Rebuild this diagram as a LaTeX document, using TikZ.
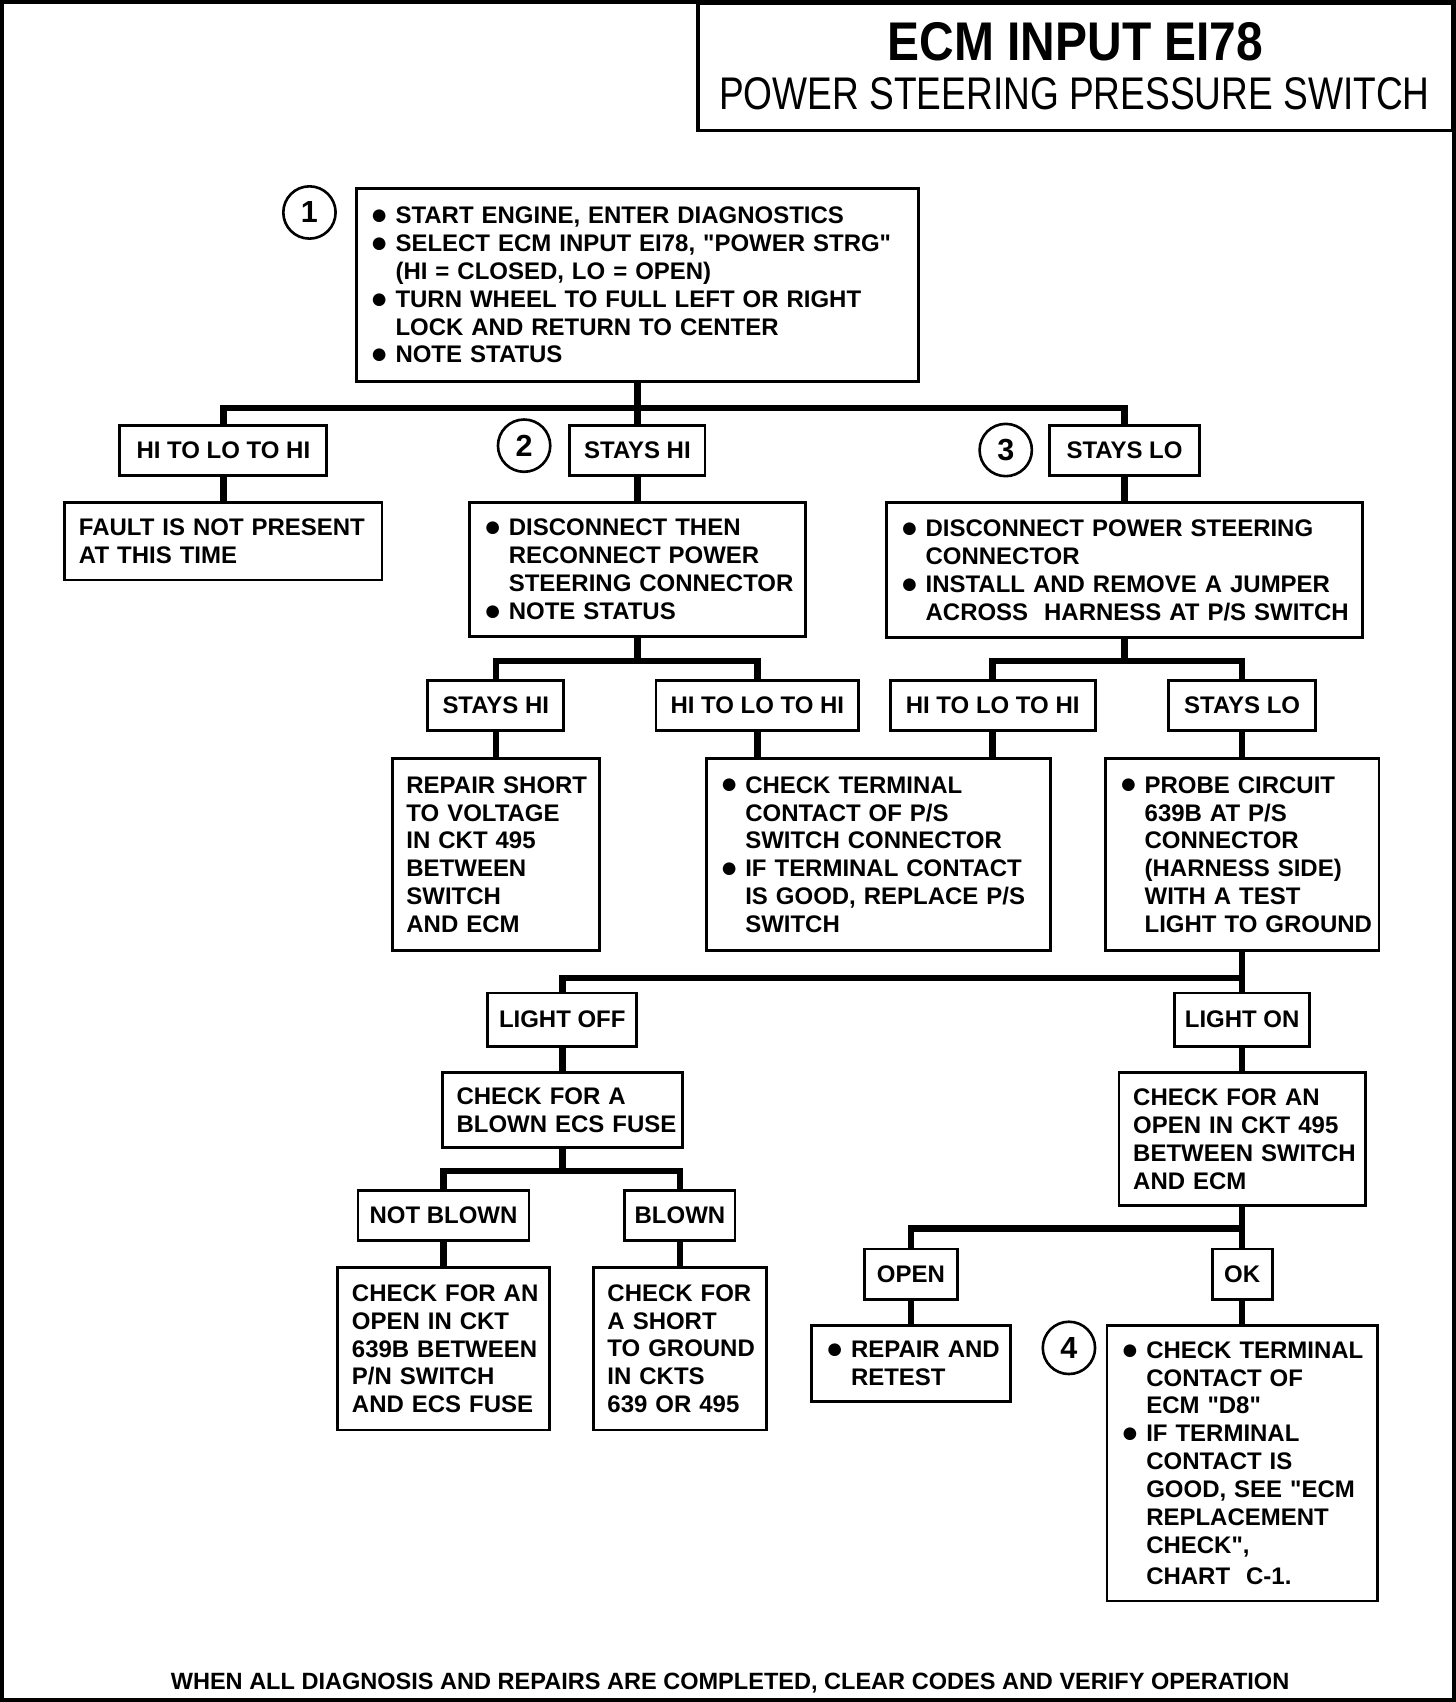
\documentclass[tikz,border=0pt]{standalone}
\usepackage{fontspec}
\setmainfont{Liberation Sans}[Ligatures=TeXOff]
\newfontfamily\headfont[FakeStretch=0.88]{Liberation Sans}
\newfontfamily\subheadfont[FakeStretch=0.81]{Liberation Sans}
\newcommand{\bl}[1]{\mbox{\makebox[11.5pt][l]{\raisebox{-0.4pt}{\fontsize{13.5}{13}\selectfont ●}}#1}}
\newcommand{\il}[1]{\mbox{\hspace*{11.5pt}#1}}
\newcommand{\pl}[1]{\mbox{#1}}

\begin{document}
\begin{tikzpicture}[x=0.5pt, y=-0.5pt,
    box/.style={draw, line width=1.3pt, anchor=north, align=left, inner xsep=6.5pt, inner ysep=0pt,
      font=\fontsize{11}{12.8}\selectfont\bfseries},
    lbl/.style={draw, line width=1.3pt, anchor=north, inner sep=0pt, minimum height=23pt, minimum width=#1,
      font=\fontsize{11}{12.8}\selectfont\bfseries},
    num/.style={draw, circle, line width=1.2pt, minimum size=24pt, inner sep=0pt,
      font=\fontsize{14}{14}\selectfont\bfseries},
    link/.style={line width=3pt}]
      \useasboundingbox (0,0) rectangle (1336,1562);
      \draw[line width=2.4pt] (1.5,1.5) rectangle (1334.5,1560.5);

      \node[draw, line width=1.5pt, anchor=north east, minimum width=346.25pt, minimum height=58.25pt, inner sep=0pt] (head) at (1334.5,1.5) {};
      \node[font=\headfont\bfseries\fontsize{25}{25}\selectfont] (title) at (987,38) {ECM INPUT EI78};
      \node[font=\subheadfont\fontsize{21}{21}\selectfont] (subtitle) at (986,86) {POWER STEERING PRESSURE SWITCH};

      \node[num] (n1) at (284,195) {1};
      \node[box, text width=245pt, minimum height=88.5pt] (start) at (585,172)
        {\bl{START ENGINE, ENTER DIAGNOSTICS}\\ \bl{SELECT ECM INPUT EI78, "POWER STRG"}\\ \il{(HI = CLOSED, LO = OPEN)}\\
         \bl{TURN WHEEL TO FULL LEFT OR RIGHT}\\ \il{LOCK AND RETURN TO CENTER}\\ \bl{NOTE STATUS}};

      \node[lbl=95pt] (hilo) at (205,389) {HI TO LO TO HI};
      \node[num] (n2) at (481,409) {2};
      \node[lbl=62pt] (stayshi) at (585,389) {STAYS HI};
      \node[num] (n3) at (923,413) {3};
      \node[lbl=68.5pt] (stayslo) at (1032,389) {STAYS LO};

      \node[box, text width=132.5pt, minimum height=35.5pt] (nofault) at (205,460)
        {\pl{FAULT IS NOT PRESENT}\\ \pl{AT THIS TIME}};
      \node[box, text width=141pt, minimum height=61.5pt] (reconn) at (585,460)
        {\bl{DISCONNECT THEN}\\ \il{RECONNECT POWER}\\ \il{STEERING CONNECTOR}\\ \bl{NOTE STATUS}};
      \node[box, text width=205.5pt, minimum height=62pt] (jumper) at (1032,460)
        {\bl{DISCONNECT POWER STEERING}\\ \il{CONNECTOR}\\ \bl{INSTALL AND REMOVE A JUMPER}\\ \il{ACROSS~~HARNESS AT P/S SWITCH}};

      \node[lbl=62.5pt] (hihi) at (455,623) {STAYS HI};
      \node[lbl=93pt] (hilohi) at (695,623) {HI TO LO TO HI};
      \node[lbl=94pt] (lohilo) at (911,623) {HI TO LO TO HI};
      \node[lbl=67.5pt] (lolo) at (1140,623) {STAYS LO};

      \node[box, text width=82pt, minimum height=88pt] (short) at (455,695)
        {\pl{REPAIR SHORT}\\ \pl{TO VOLTAGE}\\ \pl{IN CKT 495}\\ \pl{BETWEEN}\\ \pl{SWITCH}\\ \pl{AND ECM}};
      \node[box, text width=145pt, minimum height=88pt] (psterm) at (806,695)
        {\bl{CHECK TERMINAL}\\ \il{CONTACT OF P/S}\\ \il{SWITCH CONNECTOR}\\ \bl{IF TERMINAL CONTACT}\\ \il{IS GOOD, REPLACE P/S}\\ \il{SWITCH}};
      \node[box, text width=112.5pt, minimum height=88pt] (probe) at (1140,695)
        {\bl{PROBE CIRCUIT}\\ \il{639B AT P/S}\\ \il{CONNECTOR}\\ \il{(HARNESS SIDE)}\\ \il{WITH A TEST}\\ \il{LIGHT TO GROUND}};

      \node[lbl=68.5pt, minimum height=24.5pt] (lightoff) at (516,910) {LIGHT OFF};
      \node[lbl=62pt, minimum height=24.5pt] (lighton) at (1140,910) {LIGHT ON};

      \node[box, text width=97pt, minimum height=34.5pt] (fuse) at (516,983)
        {\pl{CHECK FOR A}\\ \pl{BLOWN ECS FUSE}};
      \node[box, text width=100pt, minimum height=61pt] (open495) at (1140,983)
        {\pl{CHECK FOR AN}\\ \pl{OPEN IN CKT 495}\\ \pl{BETWEEN SWITCH}\\ \pl{AND ECM}};

      \node[lbl=78.5pt] (notblown) at (407,1091) {NOT BLOWN};
      \node[lbl=50.5pt] (blown) at (624,1091) {BLOWN};
      \node[lbl=42.5pt] (open) at (836,1145) {OPEN};
      \node[lbl=27.5pt] (ok) at (1140,1145) {OK};

      \node[box, text width=84pt, minimum height=74.5pt] (open639) at (407,1162)
        {\pl{CHECK FOR AN}\\ \pl{OPEN IN CKT}\\ \pl{639B BETWEEN}\\ \pl{P/N SWITCH}\\ \pl{AND ECS FUSE}};
      \node[box, text width=66.5pt, minimum height=74.5pt] (short639) at (624,1162)
        {\pl{CHECK FOR}\\ \pl{A SHORT}\\ \pl{TO GROUND}\\ \pl{IN CKTS}\\ \pl{639 OR 495}};
      \node[box, text width=78pt, minimum height=35pt] (retest) at (836,1215)
        {\bl{REPAIR AND}\\ \il{RETEST}};
      \node[num] (n4) at (981,1237) {4};
      \node[box, text width=111pt, minimum height=126.5pt] (ecmterm) at (1140,1215)
        {\bl{CHECK TERMINAL}\\ \il{CONTACT OF}\\ \il{ECM "D8"}\\ \bl{IF TERMINAL}\\ \il{CONTACT IS}\\ \il{GOOD, SEE "ECM}\\ \il{REPLACEMENT}\\ \il{CHECK",}\\[1.5pt] \il{CHART~~C-1.}};

      \node[font=\fontsize{10.8}{12}\selectfont\bfseries] (footer) at (670,1545)
        {WHEN ALL DIAGNOSIS AND REPAIRS ARE COMPLETED, CLEAR CODES AND VERIFY OPERATION};

      \draw[link] (start.south) -- ++(0,23) -| (hilo.north);
      \draw[link] (start.south) -- ++(0,23) -| (stayslo.north);
      \draw[link] (start.south) -- (stayshi.north);
      \draw[link] (hilo.south) -- (nofault.north);
      \draw[link] (stayshi.south) -- (reconn.north);
      \draw[link] (stayslo.south) -- (jumper.north);

      \draw[link] (reconn.south) -- ++(0,21) -| (hihi.north);
      \draw[link] (reconn.south) -- ++(0,21) -| (hilohi.north);
      \draw[link] (jumper.south) -- ++(0,20) -| (lohilo.north);
      \draw[link] (jumper.south) -- ++(0,20) -| (lolo.north);
      \draw[link] (hihi.south) -- (short.north);
      \draw[link] (hilohi.south) -- (hilohi.south |- psterm.north);
      \draw[link] (lohilo.south) -- (lohilo.south |- psterm.north);
      \draw[link] (lolo.south) -- (probe.north);

      \draw[link] (probe.south) -- ++(0,24) -| (lightoff.north);
      \draw[link] (probe.south) -- (lighton.north);
      \draw[link] (lightoff.south) -- (fuse.north);
      \draw[link] (fuse.south) -- ++(0,20) -| (notblown.north);
      \draw[link] (fuse.south) -- ++(0,20) -| (blown.north);
      \draw[link] (notblown.south) -- (open639.north);
      \draw[link] (blown.south) -- (short639.north);
      \draw[link] (lighton.south) -- (open495.north);
      \draw[link] (open495.south) -- ++(0,20) -| (open.north);
      \draw[link] (open495.south) -- (ok.north);
      \draw[link] (open.south) -- (retest.north);
      \draw[link] (ok.south) -- (ecmterm.north);
    \end{tikzpicture}
\end{document}
